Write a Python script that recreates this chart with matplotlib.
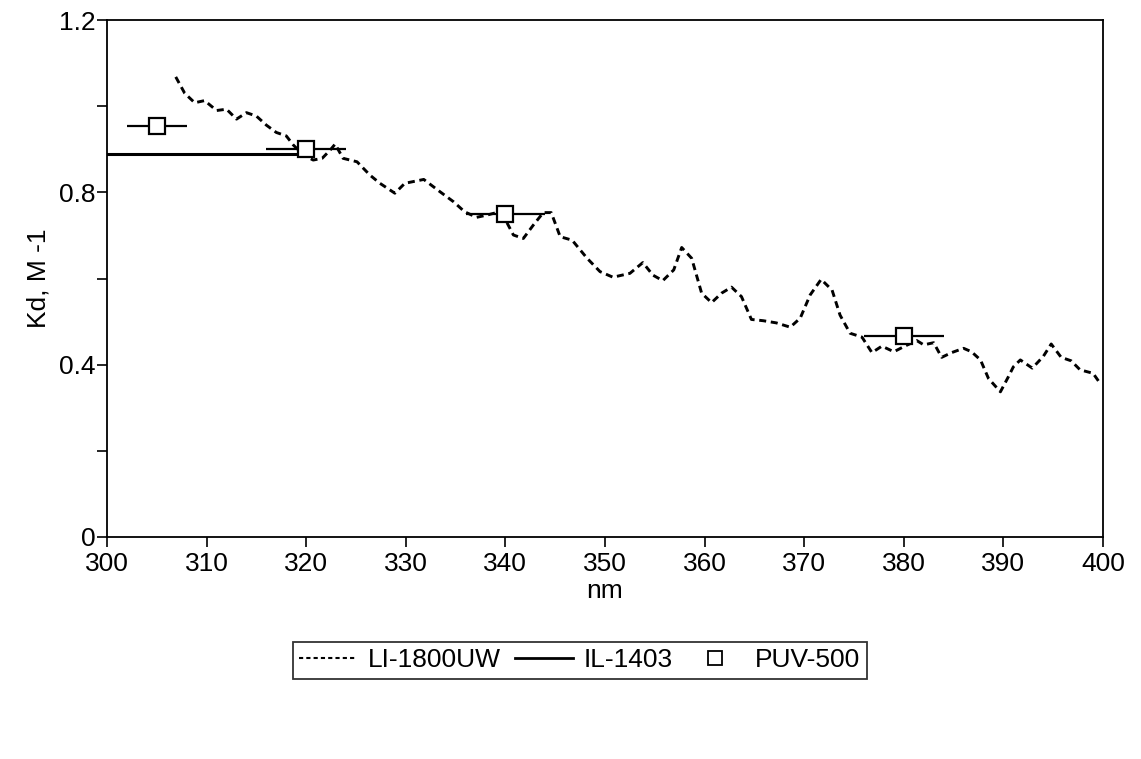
import numpy as np
import matplotlib.pyplot as plt
from matplotlib.lines import Line2D
from matplotlib.ticker import MultipleLocator

plt.rcParams['font.family'] = ['Liberation Sans', 'DejaVu Sans']

# LI-1800UW spectral Kd
li_nm = [306.9, 307.8, 308.8, 309.8, 311.0, 312.0, 313.0, 314.0, 315.0, 316.0,
         317.0, 318.0, 318.7, 319.7, 320.7, 321.6, 322.4, 322.9, 323.7, 325.1,
         326.4, 327.4, 328.9, 329.9, 331.8, 333.4, 334.8, 335.9, 337.1, 338.1,
         339.1, 340.1, 340.8, 341.8, 342.8, 343.8, 344.6, 345.5, 346.7, 348.2,
         349.5, 350.8, 352.5, 353.8, 354.8, 355.8, 356.9, 357.7, 358.7, 359.7,
         360.7, 361.7, 362.7, 363.7, 364.7, 365.9, 367.2, 368.6, 369.6, 370.6,
         371.7, 372.8, 373.6, 374.6, 375.8, 376.8, 377.8, 379.0, 380.1, 381.3,
         382.0, 383.0, 383.8, 384.8, 386.0, 386.8, 387.7, 388.5, 389.7, 390.5,
         391.0, 391.7, 392.9, 394.0, 394.8, 395.8, 396.8, 397.7, 399.0, 399.7]
li_kd = [1.068, 1.030, 1.008, 1.013, 0.990, 0.993, 0.970, 0.985, 0.977, 0.956,
         0.939, 0.931, 0.910, 0.887, 0.875, 0.879, 0.898, 0.912, 0.879, 0.871,
         0.840, 0.821, 0.798, 0.821, 0.830, 0.802, 0.778, 0.755, 0.742, 0.747,
         0.753, 0.732, 0.701, 0.693, 0.724, 0.753, 0.753, 0.697, 0.689, 0.647,
         0.616, 0.603, 0.612, 0.637, 0.608, 0.595, 0.620, 0.672, 0.647, 0.566,
         0.544, 0.566, 0.580, 0.558, 0.505, 0.502, 0.497, 0.487, 0.508, 0.562,
         0.598, 0.573, 0.515, 0.473, 0.464, 0.428, 0.443, 0.430, 0.443, 0.456,
         0.446, 0.451, 0.417, 0.428, 0.438, 0.430, 0.411, 0.368, 0.337, 0.372,
         0.395, 0.411, 0.392, 0.419, 0.448, 0.417, 0.409, 0.388, 0.380, 0.357]

# IL-1403 broadband value
il_nm = [300, 319.5]
il_kd = [0.89, 0.89]

# PUV-500 channels
puv_nm = [305, 320, 340, 380]
puv_kd = [0.954, 0.900, 0.749, 0.467]
puv_halfwidth = [3, 4, 4, 4]

fig = plt.figure(figsize=(11.41, 7.59), dpi=100)
ax = fig.add_axes([0.0938, 0.2925, 0.8729, 0.6811])

ax.plot(li_nm, li_kd, color='black', lw=2.1, ls=(0, (2.4, 1.6)))
ax.plot(il_nm, il_kd, color='black', lw=2.2)
ax.errorbar(puv_nm, puv_kd, xerr=puv_halfwidth, fmt='s', color='black',
            ecolor='black', elinewidth=1.6, capsize=0, markersize=12,
            markerfacecolor='white', markeredgecolor='black', markeredgewidth=1.6)

ax.set_xlim(300, 400)
ax.set_ylim(0, 1.2)
ax.xaxis.set_major_locator(MultipleLocator(10))
ax.yaxis.set_minor_locator(MultipleLocator(0.2))
ax.set_yticks([0, 0.4, 0.8, 1.2])
ax.set_yticklabels(['0', '0.4', '0.8', '1.2'])
ax.tick_params(which='both', direction='out', length=7, width=1.2,
               labelsize=19, pad=1)
ax.tick_params(axis='x', pad=4)
for s in ax.spines.values():
    s.set_linewidth(1.3)

ax.set_xlabel('nm', fontsize=19, labelpad=2)
ax.set_ylabel('Kd, M -1', fontsize=19, labelpad=6)

handles = [
    Line2D([], [], color='black', lw=1.5, ls=(0, (2, 1.5))),
    Line2D([], [], color='black', lw=2),
    Line2D([], [], ls='none', marker='s', markersize=10, markerfacecolor='white',
           markeredgecolor='black', markeredgewidth=1.3),
]
leg = fig.legend(handles, ['LI-1800UW', 'IL-1403', 'PUV-500'], ncol=3,
                 loc='center', bbox_to_anchor=(0.245, 0.103, 0.526, 0.054),
                 mode='expand', fontsize=19, frameon=True, fancybox=False,
                 handlelength=2.2, handletextpad=0.4, borderpad=0.25,
                 columnspacing=0.6)
leg.get_frame().set_edgecolor('black')
leg.get_frame().set_linewidth(1.3)

fig.savefig('out.png', dpi=100)
